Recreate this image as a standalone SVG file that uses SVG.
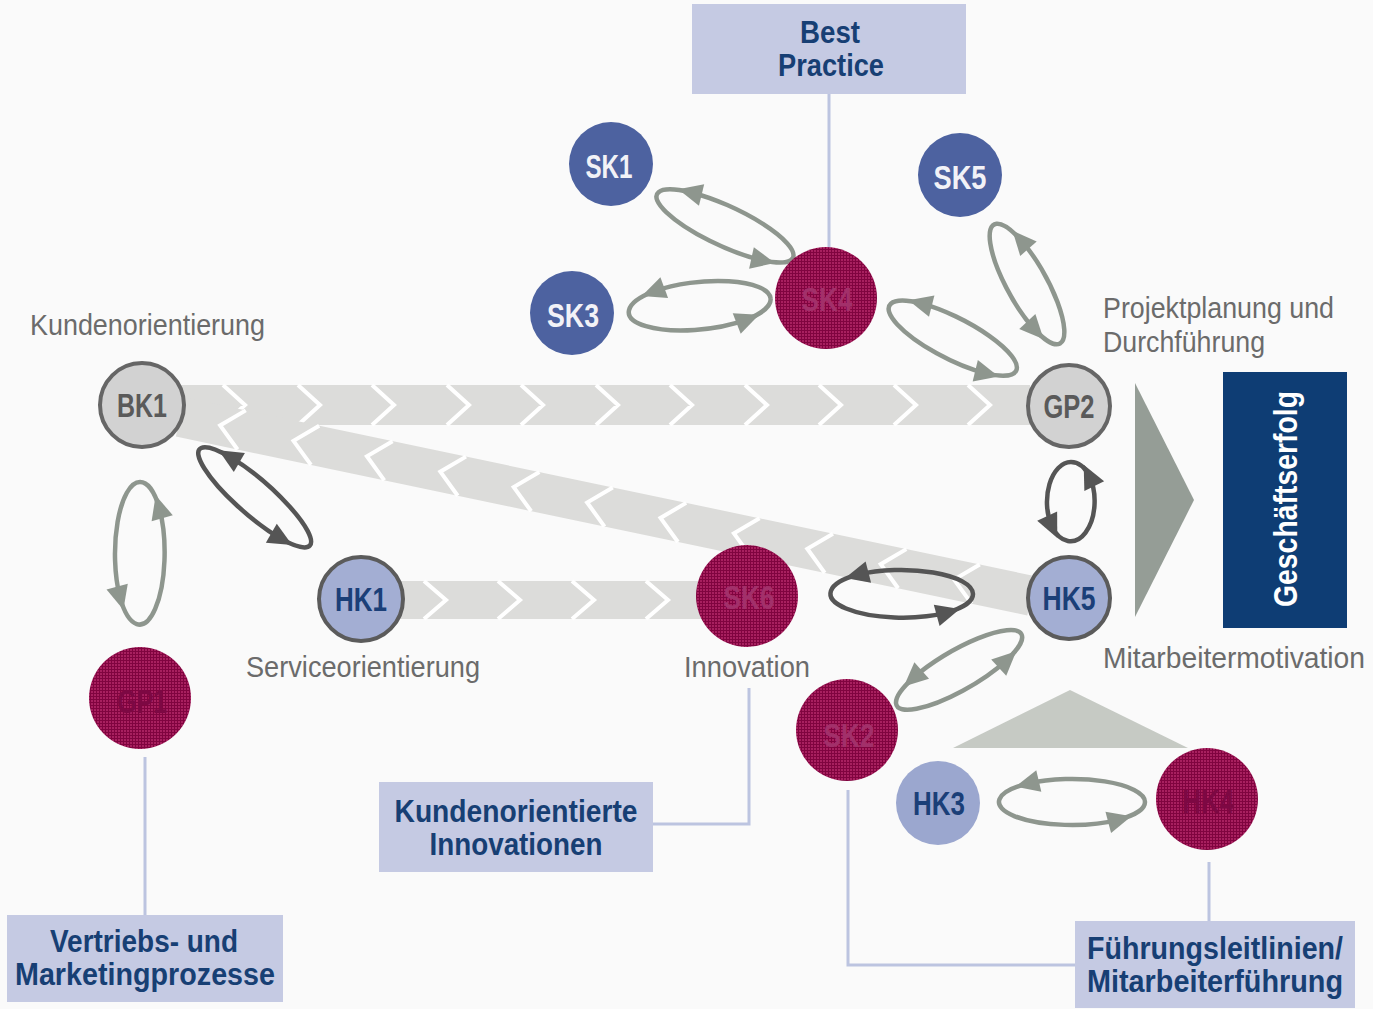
<svg xmlns="http://www.w3.org/2000/svg" width="1373" height="1009" viewBox="0 0 1373 1009">
<defs>
<pattern id="hatch" width="3" height="3" patternUnits="userSpaceOnUse">
<rect width="3" height="3" fill="#a8205f"/>
<rect width="3" height="1" fill="#80043f"/>
<rect width="1" height="3" fill="#80043f"/>
</pattern>
<marker id="ahG" markerUnits="userSpaceOnUse" viewBox="-14 -13 28 26" markerWidth="28" markerHeight="26" refX="0" refY="0" orient="auto">
<path d="M13,0 L-11,-11 L-11,11 Z" fill="#8e968e"/>
</marker>
<marker id="ahD" markerUnits="userSpaceOnUse" viewBox="-14 -13 28 26" markerWidth="28" markerHeight="26" refX="0" refY="0" orient="auto">
<path d="M13,0 L-11,-11 L-11,11 Z" fill="#555555"/>
</marker>
</defs>
<style>
.band{fill:#dcdcda}
.chev{fill:none;stroke:#ffffff;stroke-width:4}
.loopG{fill:none;stroke:#8e968e;stroke-width:4.5;marker-mid:url(#ahG)}
.loopD{fill:none;stroke:#555555;stroke-width:4.5;marker-mid:url(#ahD)}
.link{fill:none;stroke:#bcc4e0;stroke-width:3}
.box{fill:#c5cae3}
.boxt{font-family:"Liberation Sans Narrow","Liberation Sans",Arial,sans-serif;font-weight:bold;font-size:32px;fill:#173f74;text-anchor:middle}
.lbl{font-family:"Liberation Sans Narrow","Liberation Sans",Arial,sans-serif;font-size:29px;fill:#6b6b6b}
.nt{font-family:"Liberation Sans Narrow","Liberation Sans",Arial,sans-serif;font-weight:bold;font-size:33px;text-anchor:middle}
.gray{fill:#d2d2d2;stroke:#666666;stroke-width:4}
.lav{fill:#a3aed3;stroke:#5b5b5b;stroke-width:4}
.blue{fill:#4d62a0}
.hk3{fill:#9ba7cf}
.crim{fill:url(#hatch)}
</style>
<rect width="1373" height="1009" fill="#fafafa"/>

<g id="bands">
<rect class="band" x="180" y="385" width="850" height="40"/>
<path class="chev" d="M223,385 L245,405 L223,425 M298,385 L320,405 L298,425 M372,385 L394,405 L372,425 M447,385 L469,405 L447,425 M521,385 L543,405 L521,425 M596,385 L618,405 L596,425 M670,385 L692,405 L670,425 M745,385 L767,405 L745,425 M819,385 L841,405 L819,425 M894,385 L916,405 L894,425 M968,385 L990,405 L968,425"/>
<g transform="translate(180,417) rotate(11.86)">
<rect class="band" x="0" y="-20" width="870" height="40"/>
<path class="chev" d="M63,-20 L41,0 L63,20 M138,-20 L116,0 L138,20 M213,-20 L191,0 L213,20 M288,-20 L266,0 L288,20 M363,-20 L341,0 L363,20 M438,-20 L416,0 L438,20 M513,-20 L491,0 L513,20 M588,-20 L566,0 L588,20 M663,-20 L641,0 L663,20 M738,-20 L716,0 L738,20 M813,-20 L791,0 L813,20"/>
</g>
<rect class="band" x="395" y="581" width="310" height="38"/>
<path class="chev" d="M424,581 L446,600 L424,619 M498,581 L520,600 L498,619 M572,581 L594,600 L572,619 M646,581 L668,600 L646,619"/>
</g>

<g id="arrow-big"><polygon points="1135,383 1194,500 1135,617" fill="#959d96"/></g>
<g id="triangle-bottom"><polygon points="953,748 1070,690 1188,748" fill="#c6cac4"/></g>

<g id="connectors">
<path class="link" d="M829,94 V248"/>
<path class="link" d="M653,824 H749 V688"/>
<path class="link" d="M145,757 V915"/>
<path class="link" d="M848,790 V965 H1075"/>
<path class="link" d="M1209,862 V921"/>
<path class="loopG" transform="translate(725,226) rotate(25)" d="M75,0 A75,20 0 0 0 -45.1,-16 A75,20 0 1 0 48.2,15.3 A75,20 0 0 0 75,0"/>
<path class="loopG" transform="translate(699,306) rotate(-6)" d="M72,0 A72,24 0 0 0 -43.3,-19.2 A72,24 0 1 0 46.3,18.4 A72,24 0 0 0 72,0"/>
<path class="loopG" transform="translate(952,338) rotate(27)" d="M72,0 A72,21 0 0 0 -43.3,-16.8 A72,21 0 1 0 46.3,16.1 A72,21 0 0 0 72,0"/>
<path class="loopG" transform="translate(1027,284) rotate(61)" d="M68,0 A68,20 0 0 0 -40.9,-16 A68,20 0 1 0 43.7,15.3 A68,20 0 0 0 68,0"/>
<path class="loopD" transform="translate(254,497) rotate(41)" d="M74,0 A74,18 0 0 0 -44.5,-14.4 A74,18 0 1 0 47.6,13.8 A74,18 0 0 0 74,0"/>
<path class="loopG" transform="translate(140,554) rotate(-90)" d="M72,0 A72,25 0 0 0 -43.3,-20 A72,25 0 1 0 46.3,19.2 A72,25 0 0 0 72,0"/>
<path class="loopD" transform="translate(1071,502) rotate(-90)" d="M40,0 A40,24 0 0 0 -24.1,-19.2 A40,24 0 1 0 25.7,18.4 A40,24 0 0 0 40,0"/>
<path class="loopD" transform="translate(901,594)" d="M72,0 A72,24 0 0 0 -43.3,-19.2 A72,24 0 1 0 46.3,18.4 A72,24 0 0 0 72,0"/>
<path class="loopG" transform="translate(959,670) rotate(-30)" d="M72,0 A72,20 0 0 0 -43.3,-16 A72,20 0 1 0 46.3,15.3 A72,20 0 0 0 72,0"/>
<path class="loopG" transform="translate(1072,802)" d="M73,0 A73,23 0 0 0 -43.9,-18.4 A73,23 0 1 0 46.9,17.6 A73,23 0 0 0 73,0"/>
</g>

<g id="node-BK1"><circle class="gray" cx="142" cy="405" r="42"/><text class="nt" x="142" y="417" fill="#5a5a5a" textLength="50" lengthAdjust="spacingAndGlyphs">BK1</text></g>
<g id="node-GP2"><circle class="gray" cx="1069" cy="406" r="41"/><text class="nt" x="1069" y="418" fill="#5a5a5a" textLength="51" lengthAdjust="spacingAndGlyphs">GP2</text></g>
<g id="node-HK1"><circle class="lav" cx="361" cy="599" r="42"/><text class="nt" x="361" y="611" fill="#1b3f78" textLength="52" lengthAdjust="spacingAndGlyphs">HK1</text></g>
<g id="node-HK5"><circle class="lav" cx="1069" cy="598" r="41"/><text class="nt" x="1069" y="610" fill="#1b3f78" textLength="53" lengthAdjust="spacingAndGlyphs">HK5</text></g>
<g id="node-SK1"><circle class="blue" cx="611" cy="164" r="42"/><text class="nt" x="609" y="178" fill="#f2f2f7" textLength="47" lengthAdjust="spacingAndGlyphs">SK1</text></g>
<g id="node-SK3"><circle class="blue" cx="572" cy="313" r="42"/><text class="nt" x="573" y="327" fill="#f2f2f7" textLength="52" lengthAdjust="spacingAndGlyphs">SK3</text></g>
<g id="node-SK5"><circle class="blue" cx="960" cy="175" r="42"/><text class="nt" x="960" y="189" fill="#f2f2f7" textLength="53" lengthAdjust="spacingAndGlyphs">SK5</text></g>
<g id="node-HK3"><circle class="hk3" cx="938" cy="803" r="42"/><text class="nt" x="939" y="815" fill="#1b3f78" textLength="52" lengthAdjust="spacingAndGlyphs">HK3</text></g>
<g id="node-SK4"><circle class="crim" cx="826" cy="298" r="51"/><text class="nt" x="827" y="311" fill="#a2306a" textLength="51" lengthAdjust="spacingAndGlyphs">SK4</text></g>
<g id="node-SK6"><circle class="crim" cx="747" cy="596" r="51"/><text class="nt" x="749" y="609" fill="#a2306a" textLength="51" lengthAdjust="spacingAndGlyphs">SK6</text></g>
<g id="node-SK2"><circle class="crim" cx="847" cy="730" r="51"/><text class="nt" x="849" y="747" fill="#a2306a" textLength="51" lengthAdjust="spacingAndGlyphs">SK2</text></g>
<g id="node-HK4"><circle class="crim" cx="1207" cy="799" r="51"/><text class="nt" x="1208" y="813" fill="#7d0843" textLength="52" lengthAdjust="spacingAndGlyphs">HK4</text></g>
<g id="node-GP1"><circle class="crim" cx="140" cy="698" r="51"/><text class="nt" x="142" y="713" fill="#7d0843" textLength="50" lengthAdjust="spacingAndGlyphs">GP1</text></g>

<g id="node-Geschaeftserfolg"><rect x="1223" y="372" width="124" height="256" fill="#0e3d74"/><text font-family="Liberation Sans Narrow,Liberation Sans,Arial,sans-serif" font-weight="bold" font-size="33" fill="#ffffff" text-anchor="middle" transform="translate(1297,499) rotate(-90)" textLength="216" lengthAdjust="spacingAndGlyphs">Geschäftserfolg</text></g>

<g id="box-BestPractice"><rect class="box" x="692" y="4" width="274" height="90"/><text class="boxt" x="830" y="43" textLength="60" lengthAdjust="spacingAndGlyphs">Best</text><text class="boxt" x="831" y="76" textLength="106" lengthAdjust="spacingAndGlyphs">Practice</text></g>
<g id="box-KundInnov"><rect class="box" x="379" y="782" width="274" height="90"/><text class="boxt" x="516" y="822" textLength="243" lengthAdjust="spacingAndGlyphs">Kundenorientierte</text><text class="boxt" x="516" y="855" textLength="173" lengthAdjust="spacingAndGlyphs">Innovationen</text></g>
<g id="box-Vertrieb"><rect class="box" x="7" y="915" width="276" height="87"/><text class="boxt" x="144" y="952" textLength="188" lengthAdjust="spacingAndGlyphs">Vertriebs- und</text><text class="boxt" x="145" y="985" textLength="260" lengthAdjust="spacingAndGlyphs">Marketingprozesse</text></g>
<g id="box-Fuehrung"><rect class="box" x="1075" y="921" width="280" height="87"/><text class="boxt" x="1215" y="959" textLength="256" lengthAdjust="spacingAndGlyphs">Führungsleitlinien/</text><text class="boxt" x="1215" y="992" textLength="256" lengthAdjust="spacingAndGlyphs">Mitarbeiterführung</text></g>

<g id="labels">
<text class="lbl" x="30" y="335" textLength="235" lengthAdjust="spacingAndGlyphs">Kundenorientierung</text>
<text class="lbl" x="246" y="677" textLength="234" lengthAdjust="spacingAndGlyphs">Serviceorientierung</text>
<text class="lbl" x="684" y="677" textLength="126" lengthAdjust="spacingAndGlyphs">Innovation</text>
<text class="lbl" x="1103" y="318" textLength="231" lengthAdjust="spacingAndGlyphs">Projektplanung und</text>
<text class="lbl" x="1103" y="352" textLength="162" lengthAdjust="spacingAndGlyphs">Durchführung</text>
<text class="lbl" x="1103" y="668" textLength="262" lengthAdjust="spacingAndGlyphs">Mitarbeitermotivation</text>
</g>
</svg>
